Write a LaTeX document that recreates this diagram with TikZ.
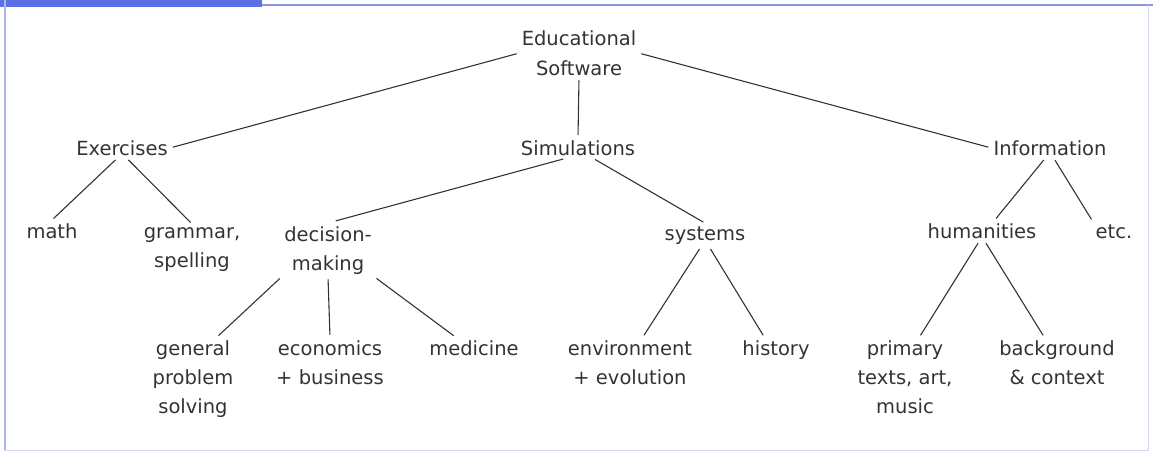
\documentclass[tikz,border=0pt]{standalone}
\usepackage{fontspec}
\setmainfont{DejaVu Sans}
\definecolor{tabblue}{HTML}{5C6FE6}
\definecolor{frameblue}{HTML}{8A96E0}
\definecolor{ink}{HTML}{333333}

\begin{document}
\begin{tikzpicture}[x=1pt,y=-1pt,
    every node/.style={font=\fontsize{19.5}{29}\selectfont,text=ink,align=center,inner sep=3pt,anchor=base},
    lnk/.style={draw=ink,line width=1.1pt,shorten >=2pt,shorten <=2pt}]
  \useasboundingbox (0,0) rectangle (1153,452);
  % frame
  \fill[tabblue] (0,0) rectangle (262,7);
  \draw[frameblue,line width=2pt] (262,5) -- (1153,5);
  \draw[frameblue!70,line width=1.5pt] (5,0) -- (5,450);
  \draw[frameblue!40,line width=1pt] (5,450) -- (1148,450) -- (1148,5);
  % level 0 and 1 (base = last line)
  \node (edu) at (579,75) {Educational\\Software};
  \node (exer) at (122,155) {Exercises};
  \node (sim) at (578,155) {Simulations};
  \node (info) at (1050,155) {Information};
  % level 2
  \node (math) at (52,238) {math};
  \node (gram) at (192,267) {grammar,\\spelling};
  \node (dec) at (328,270) {decision-\\making};
  \node (sys) at (705,240) {systems};
  \node (hum) at (982,238) {humanities};
  \node (etc) at (1114,238) {etc.};
  % level 3
  \node (gen) at (193,413) {general\\problem\\solving};
  \node (econ) at (330,384) {economics\\+ business};
  \node (med) at (474,355) {medicine};
  \node (env) at (630,384) {environment\\+ evolution};
  \node (hist) at (776,355) {history};
  \node (prim) at (905,413) {primary\\texts, art,\\music};
  \node (back) at (1057,384) {background\\\& context};
  % connectors
  \draw[lnk] (edu.west) -- (exer.east);
  \draw[lnk] (edu.east) -- (info.west);
  \draw[lnk] (edu.south) -- (sim.north);
  \draw[lnk] (exer.-115) -- (math.north);
  \draw[lnk] (exer.-65) -- (gram.north);
  \draw[lnk,shorten >=8pt] (sim.220) -- (dec.north);
  \draw[lnk] (sim.-35) -- (sys.north);
  \draw[lnk] (info.-115) -- (hum.40);
  \draw[lnk] (info.-70) -- (etc.north west);
  \draw[lnk] (dec.south west) -- (gen.60);
  \draw[lnk] (dec.south) -- (econ.north);
  \draw[lnk] (dec.south east) -- (med.150);
  \draw[lnk] (sys.-110) -- (env.63);
  \draw[lnk] (sys.-70) -- (hist.133);
  \draw[lnk] (hum.-105) -- (prim.70);
  \draw[lnk] (hum.-75) -- (back.117);
\end{tikzpicture}
\end{document}
